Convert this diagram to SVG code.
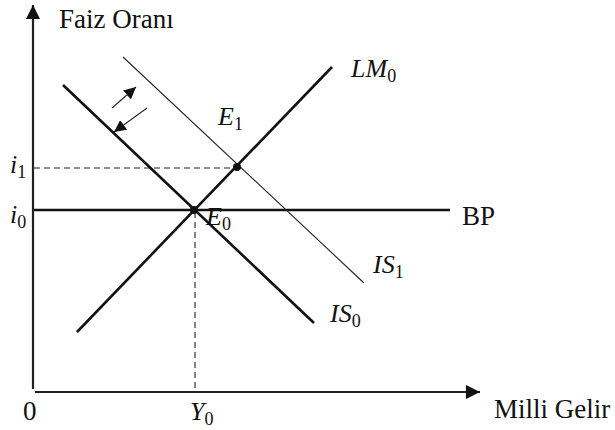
<svg xmlns="http://www.w3.org/2000/svg" width="615" height="430" viewBox="0 0 615 430">
<style>
.t{font-family:"Liberation Serif","Times New Roman",serif;font-size:27px;fill:#111}
.m{font-family:"Liberation Serif","Times New Roman",serif;font-size:26px;font-style:italic;fill:#111}
.s{font-size:18px;font-style:normal}
.thick{stroke:#111;stroke-width:2.6;fill:none}
.thin{stroke:#222;stroke-width:1.1;fill:none}
.axis{stroke:#222;stroke-width:2.2;fill:none}
.dash{stroke:#222;stroke-width:1.1;stroke-dasharray:6,4;fill:none}
</style>
<defs>
<marker id="ah" viewBox="0 0 10 10" refX="10" refY="5" markerWidth="14" markerHeight="14" markerUnits="userSpaceOnUse" orient="auto">
<path d="M0,0 L10,5 L0,10 Z" fill="#111"/>
</marker>
<marker id="ah2" viewBox="0 0 10 10" refX="10" refY="5" markerWidth="12" markerHeight="12" markerUnits="userSpaceOnUse" orient="auto">
<path d="M0,0 L10,5 L0,10 Z" fill="#111"/>
</marker>
</defs>
<g id="connectors">
<line id="y-axis" class="axis" x1="33" y1="389" x2="33" y2="5" marker-end="url(#ah)"/>
<line id="x-axis" class="axis" x1="35" y1="392" x2="480" y2="392" marker-end="url(#ah)"/>
<line id="i1-dash" class="dash" x1="34" y1="168" x2="237" y2="168"/>
<line id="y0-dash" class="dash" x1="195" y1="212" x2="195" y2="391"/>
<line id="bp-line" class="thick" x1="34" y1="210" x2="450" y2="210"/>
<line id="lm0-line" class="thick" x1="77" y1="332" x2="332" y2="67"/>
<line id="is0-line" class="thick" x1="63" y1="85" x2="314" y2="323"/>
<line id="is1-line" class="thin" x1="123" y1="57" x2="364" y2="283"/>
<line id="shift-out" class="thin" x1="112" y1="108" x2="136" y2="87" marker-end="url(#ah2)"/>
<line id="shift-in" class="thin" x1="147" y1="108" x2="114" y2="132" marker-end="url(#ah2)"/>
</g>
<g id="node-E0"><circle cx="194" cy="210" r="4" fill="#111"/><text class="m" x="206" y="225">E<tspan class="s" dy="5">0</tspan></text></g>
<g id="node-E1"><circle cx="237" cy="167" r="4" fill="#111"/><text class="m" x="218" y="125">E<tspan class="s" dy="5">1</tspan></text></g>
<g id="label-yaxis"><text class="t" x="59" y="28">Faiz Oranı</text></g>
<g id="label-xaxis"><text class="t" x="494" y="418">Milli Gelir</text></g>
<g id="label-origin"><text class="t" x="23" y="420">0</text></g>
<g id="label-Y0"><text class="m" x="190" y="420">Y<tspan class="s" dy="5">0</tspan></text></g>
<g id="label-i1"><text class="m" x="10" y="173">i<tspan class="s" dy="5">1</tspan></text></g>
<g id="label-i0"><text class="m" x="10" y="223">i<tspan class="s" dy="5">0</tspan></text></g>
<g id="label-BP"><text class="t" x="462" y="225">BP</text></g>
<g id="label-LM0"><text class="m" x="351" y="77">LM<tspan class="s" dy="5">0</tspan></text></g>
<g id="label-IS1"><text class="m" x="373" y="273">IS<tspan class="s" dy="5">1</tspan></text></g>
<g id="label-IS0"><text class="m" x="330" y="322">IS<tspan class="s" dy="5">0</tspan></text></g>
</svg>
